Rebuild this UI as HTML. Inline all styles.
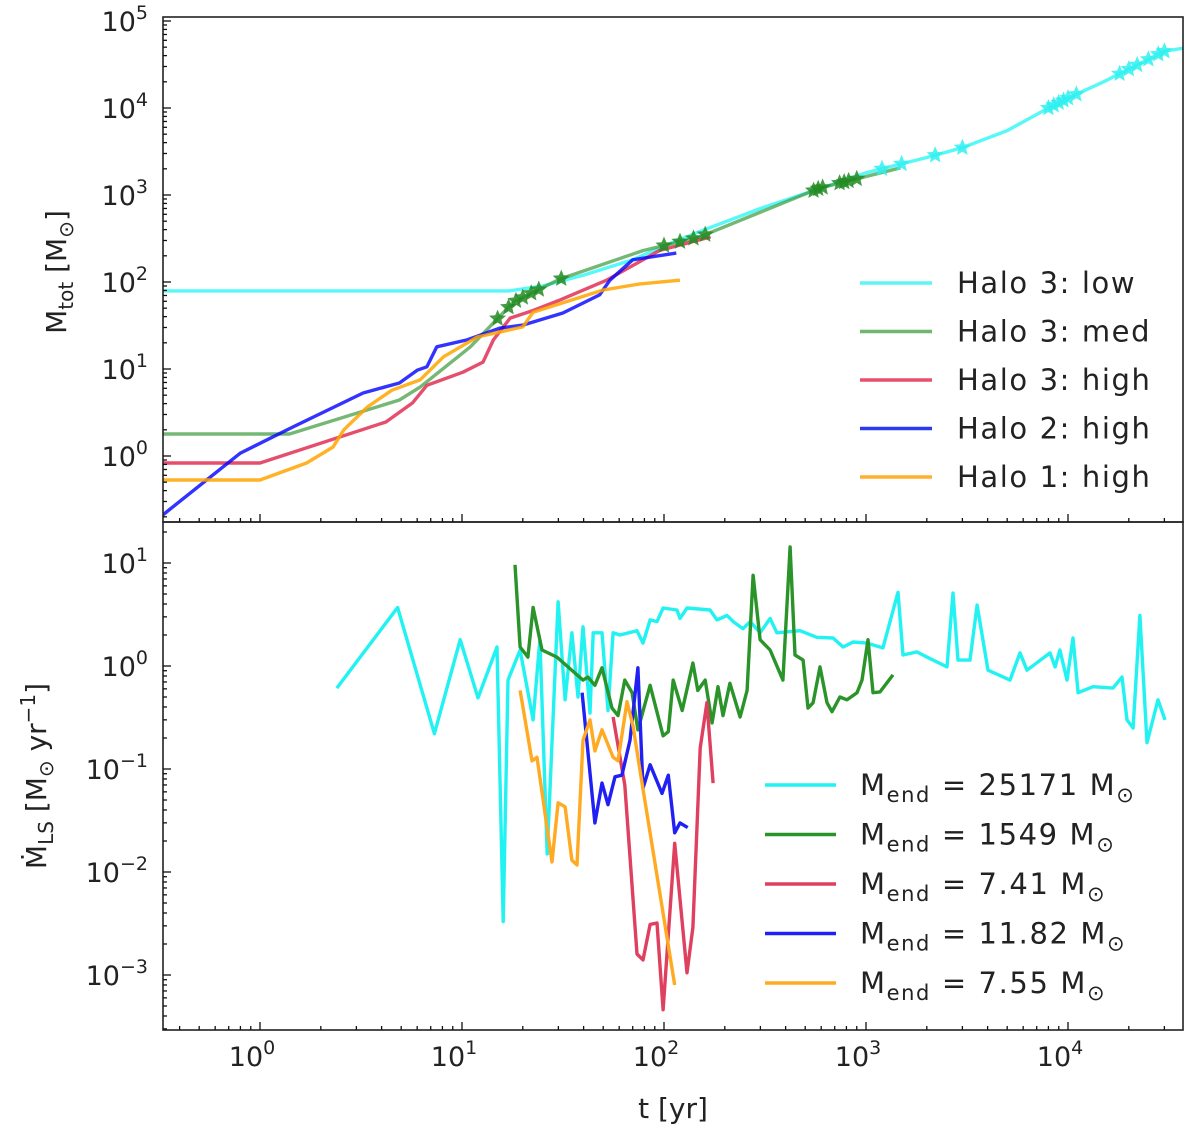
<!DOCTYPE html>
<html><head><meta charset="utf-8"><style>
html,body{margin:0;padding:0;background:#fff;}
svg{display:block;font-family:"DejaVu Sans","Liberation Sans",sans-serif;}
</style></head><body>
<svg id="chart" width="1200" height="1136" viewBox="0 0 1200 1136" xmlns="http://www.w3.org/2000/svg"></svg>
<script>
// ---- top panel data: t [yr], M_tot [Msun]
const lowT  = [0.33,17,25,40,70,100,150,300,600,1000,2000,3000,5000,8000,10000,15000,20000,30000,40000];
const lowM  = [79,79,90,120,180,260,380,700,1200,1800,2700,3500,5500,10000,13000,20000,28000,45000,50000];
const medT  = [0.33,1.4,4.9,6.2,11,15,18,30.5,79,150,590,1480];
const medM  = [1.79,1.79,4.4,6.2,18,38,59,108,230,330,1200,2050];
const h3hT  = [0.33,1,4.2,5.7,6.7,10.1,12.7,14.3,17.3,22.5,30.5,52,95,170];
const h3hM  = [0.83,0.83,2.46,4.1,6.5,9.2,12,21.6,38.5,47,62,105,230,330];
const h2hT  = [0.33,0.8,1.45,3.24,4.9,6,6.7,7.5,10.6,15.4,20,31.6,48,54,70,115];
const h2hM  = [0.21,1.08,2.15,5.3,6.9,9.7,10.6,18,21.6,29.5,32,44,71,105,180,215];
const h1hT  = [0.33,1,1.7,2.3,2.6,3.4,4.5,6.2,8.1,11.9,20,22.5,50,76,120];
const h1hM  = [0.53,0.53,0.83,1.27,2.0,3.66,5.7,7.5,13.8,23.3,30.5,45,81,95,105];
const medStarT = [15,17,18.5,20,22,24,31,100,120,140,160,550,580,610,740,780,820,900];
const lowStarT = [1200,1500,2200,3000,8000,8500,9000,9500,10000,11000,18000,20000,22000,25000,28000,30000];
// ---- bottom panel data: t [yr], Mdot [Msun/yr]
const cT = [2.4,4.8,7.3,9.8,12,14.9,16,16.9,19.4,22.5,24.3,26.4,29.9,32.4,35,37.5,39.7,43,44.6,49.3,52.8,56,60.5,73.5,78.7,85.3,92.3,99,116,120,130,169,183,205,220,246,267,299,335,362,471,571,687,770,863,1012,1213,1440,1525,1787,2004,2518,2697,2853,3273,3548,4018,5165,5784,6266,8147,8630,9120,9886,10590,11220,13300,16700,18500,19600,21000,22700,24600,27900,30200];
const cV = [0.61,3.7,0.22,1.8,0.49,1.53,0.0033,0.73,1.43,0.3,1.8,0.015,4.2,0.47,2.1,0.5,2.4,0.35,2.1,2.1,0.37,2.1,2.0,2.2,1.67,2.8,2.7,3.66,3.5,2.9,3.66,3.5,2.8,3.1,2.7,2.3,2.7,2.1,2.9,2.1,2.2,1.9,1.87,1.53,1.71,1.67,1.5,5.2,1.28,1.37,1.22,0.98,5.1,1.14,1.14,3.9,0.91,0.73,1.34,0.91,1.34,0.98,1.43,0.73,1.87,0.55,0.63,0.61,0.78,0.3,0.25,3.1,0.18,0.47,0.3];
const gT = [18.3,19.4,21.2,22.5,24.9,29.5,39.7,42,45.5,49.3,55.3,59.2,64,69.5,74.3,85.3,99,105,111,123,139,147,160,173,185,196,212,238,258,276,299,335,388,421,445,488,516,547,592,641,679,743,805,902,955,1023,1083,1173,1360];
const gV = [9.6,1.53,1.22,3.7,1.43,1.22,0.73,0.78,0.65,0.96,0.39,0.33,0.73,0.55,0.24,0.65,0.21,0.23,0.73,0.37,1.07,0.58,0.73,0.28,0.63,0.33,0.68,0.32,0.58,7.6,1.8,1.43,0.73,14.3,1.28,1.14,0.39,0.44,0.98,0.44,0.36,0.5,0.47,0.55,0.73,1.8,0.55,0.56,0.82];
const rT = [56,64,73.5,78.7,85.3,92.3,99,113,130,139,151,163,175];
const rV = [0.32,0.07,0.0016,0.0014,0.0031,0.0032,0.00046,0.019,0.00105,0.0029,0.16,0.44,0.073];
const bT = [39.3,45.5,49.3,52.8,57.2,61.9,67.9,74.3,78.7,85.3,97.7,105,113,120,131];
const bV = [0.55,0.03,0.073,0.045,0.084,0.087,0.19,0.96,0.065,0.11,0.058,0.087,0.024,0.03,0.027];
const oT = [19.4,22.2,23.5,27.9,29.9,32.4,35,37.1,39.7,43,45.5,49.3,56,59.2,65.6,70.3,76,113];
const oV = [0.58,0.12,0.13,0.0125,0.047,0.043,0.013,0.0117,0.19,0.3,0.15,0.24,0.13,0.12,0.45,0.26,0.098,0.0008];
const topLegend = ["Halo 3: low","Halo 3: med","Halo 3: high","Halo 2: high","Halo 1: high"];
const botLegendVals = ["25171","1549","7.41","11.82","7.55"];
const xTickExp = [0,1,2,3,4];
const topTickExp = [0,1,2,3,4,5];
const botTickExp = [1,0,-1,-2,-3];

const NS="http://www.w3.org/2000/svg";
const svg=document.getElementById('chart');
const L=163,R=1183,T=17,MID=522,B=1030;
const X=t=>260+202*Math.log10(t);
const YT=m=>456-87*Math.log10(m);
const YB=v=>666-103*Math.log10(v);
function mk(tag,attrs,parent){const e=document.createElementNS(NS,tag);for(const k in attrs)e.setAttribute(k,attrs[k]);(parent||svg).appendChild(e);return e;}

const defs=mk('defs',{});
const c1=mk('clipPath',{id:'ctop'},defs);mk('rect',{x:L,y:T,width:R-L,height:MID-T},c1);
const c2=mk('clipPath',{id:'cbot'},defs);mk('rect',{x:L,y:MID,width:R-L,height:B-MID},c2);
const gTop=mk('g',{'clip-path':'url(#ctop)'});


const gBot=mk('g',{'clip-path':'url(#cbot)'});



function line(ts,vs,yf,color,parent,name,op){
  const d=ts.map((t,i)=>(i?'L':'M')+X(t).toFixed(1)+','+yf(vs[i]).toFixed(1)).join('');
  const p=mk('path',{d:d,fill:'none',stroke:color,'stroke-width':3.4,'stroke-linejoin':'round','stroke-opacity':op||1},parent);
  
  
}
function interp(ts,vs,t){for(let i=1;i<ts.length;i++){if(t<=ts[i]){const a=Math.log10(ts[i-1]),b=Math.log10(ts[i]),f=(Math.log10(t)-a)/(b-a);return Math.pow(10,Math.log10(vs[i-1])+f*(Math.log10(vs[i])-Math.log10(vs[i-1])));}}return vs[vs.length-1];}
function star(cx,cy,r,color,parent,name){
  let pts=[];for(let k=0;k<10;k++){const ang=-Math.PI/2+k*Math.PI/5,rr=k%2?r*0.45:r;pts.push((cx+rr*Math.cos(ang)).toFixed(1)+','+(cy+rr*Math.sin(ang)).toFixed(1));}
  const s=mk('polygon',{points:pts.join(' '),fill:color,'fill-opacity':0.85},parent);
  
  
}
// top lines
line(lowT,lowM,YT,'#00f5f5',gTop,'line-halo3-low',0.65);
line(medT,medM,YT,'#3a9a3a',gTop,'line-halo3-med',0.7);
line(h3hT,h3hM,YT,'#dc143c',gTop,'line-halo3-high',0.75);
line(h2hT,h2hM,YT,'#0000ff',gTop,'line-halo2-high',0.8);
line(h1hT,h1hM,YT,'#ffa500',gTop,'line-halo1-high',0.85);
medStarT.forEach(t=>star(X(t),YT(interp(medT,medM,t)),9,'#228b22',gTop,'star-halo3-med'));
lowStarT.forEach(t=>star(X(t),YT(interp(lowT,lowM,t)),9,'#2ff0f0',gTop,'star-halo3-low'));
// bottom lines
line(cT,cV,YB,'#22f2f2',gBot,'line-mdot-25171');
line(gT,gV,YB,'#2a942a',gBot,'line-mdot-1549');
line(rT,rV,YB,'#e0405f',gBot,'line-mdot-7.41');
line(bT,bV,YB,'#2020f5',gBot,'line-mdot-11.82');
line(oT,oV,YB,'#ffaa22',gBot,'line-mdot-7.55');

// frames
[[T,MID,'top-panel-frame'],[MID,B,'bottom-panel-frame']].forEach(([y0,y1,n])=>{
  const r=mk('rect',{x:L,y:y0,width:R-L,height:y1-y0,fill:'none',stroke:'#222','stroke-width':1.6});
  
  
});
// ticks
const tk=mk('g',{stroke:'#111','stroke-width':1.3});


for(let e=-1;e<=4;e++)for(let m=1;m<10;m++){const x=X(m*Math.pow(10,e));if(x<L||x>R)continue;const len=m===1?8:4;
  mk('line',{x1:x,x2:x,y1:B,y2:B-len},tk);mk('line',{x1:x,x2:x,y1:MID,y2:MID-len},tk);}
for(let e=-1;e<=5;e++)for(let m=1;m<10;m++){const y=YT(m*Math.pow(10,e));if(y<T||y>MID)continue;mk('line',{x1:L,x2:L+(m===1?8:4),y1:y,y2:y},tk);}
for(let e=-4;e<=1;e++)for(let m=1;m<10;m++){const y=YB(m*Math.pow(10,e));if(y<MID||y>B)continue;mk('line',{x1:L,x2:L+(m===1?8:4),y1:y,y2:y},tk);}

function pow10(x,y,e,anchor,name){
  const t=mk('text',{x:x,y:y,'font-size':27,fill:'#222','text-anchor':anchor});
  
  
  t.appendChild(document.createTextNode('10'));
  const s=mk('tspan',{dy:-12,'font-size':19},t);s.textContent=(e<0?'\u2212'+(-e):String(e));
}
xTickExp.forEach(e=>pow10(X(Math.pow(10,e))-8,1066,e,'middle','x-tick-label'));
topTickExp.forEach(e=>pow10(148,YT(Math.pow(10,e))+10,e,'end','top-y-tick-label'));
botTickExp.forEach(e=>pow10(148,YB(Math.pow(10,e))+10,e,'end','bottom-y-tick-label'));

// axis labels
let t=mk('text',{x:673,y:1118,'font-size':28,fill:'#222','text-anchor':'middle'});


t.textContent='t [yr]';
t=mk('text',{x:0,y:0,'font-size':28,fill:'#222','text-anchor':'middle',transform:'translate(66,272) rotate(-90)'});


t.innerHTML='M<tspan font-size="20" dy="7">tot</tspan><tspan dy="-7"> [M</tspan><tspan font-size="20" dy="7">\u2299</tspan><tspan dy="-7">]</tspan>';
t=mk('text',{x:0,y:0,'font-size':28,fill:'#222','text-anchor':'middle',transform:'translate(46,776) rotate(-90)'});


t.innerHTML='M\u0307<tspan font-size="20" dy="7">LS</tspan><tspan dy="-7"> [M</tspan><tspan font-size="20" dy="7">\u2299</tspan><tspan dy="-7"> yr</tspan><tspan font-size="20" dy="-11">\u22121</tspan><tspan dy="11">]</tspan>';

// legends
const topCols=['#5ff5f5','#6cb86c','#e5506c','#2a3af0','#ffb030'];
topLegend.forEach((s,i)=>{const y=283+i*48.5;
  const g=mk('g',{});
  
  
  mk('line',{x1:860,x2:932,y1:y,y2:y,stroke:topCols[i],'stroke-width':3.4},g);
  const tx=mk('text',{x:957,y:y+10,'font-size':29,fill:'#222','letter-spacing':1.6},g);tx.textContent=s;});
const botCols=['#22f2f2','#2a942a','#e0405f','#2020f5','#ffaa22'];
botLegendVals.forEach((s,i)=>{const y=785+i*49.5;
  const g=mk('g',{});
  
  
  mk('line',{x1:765,x2:836,y1:y,y2:y,stroke:botCols[i],'stroke-width':3.4},g);
  const tx=mk('text',{x:860,y:y+10,'font-size':29,fill:'#222','letter-spacing':1.6},g);
  tx.innerHTML='M<tspan font-size="21" dy="7">end</tspan><tspan dy="-7"> = '+s+' M</tspan><tspan font-size="21" dy="7">\u2299</tspan>';});
</script>
</body></html>
